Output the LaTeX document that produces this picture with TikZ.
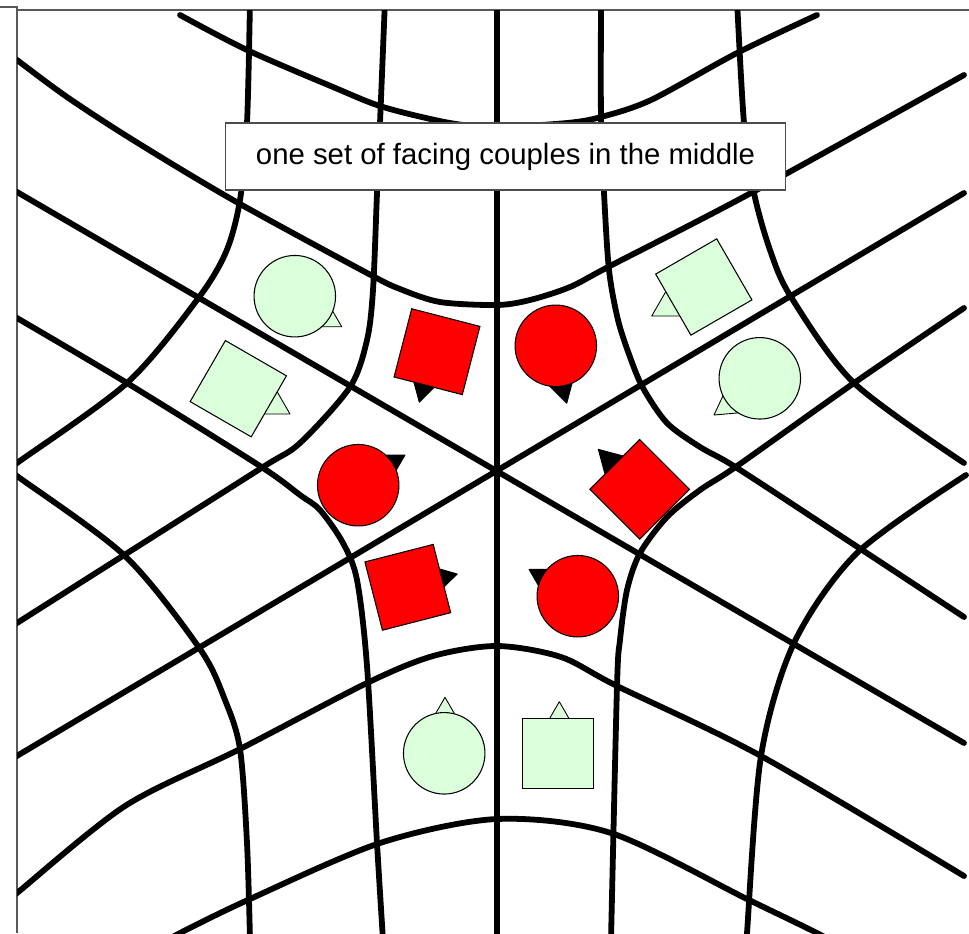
\documentclass[tikz,border=0pt]{standalone}
\usepackage{fontspec}
\setmainfont{Liberation Sans}
\usepackage{xcolor}
\usepackage{tikz}
\definecolor{mint}{RGB}{218,255,218}

\begin{document}
\begin{tikzpicture}[
    x=0.02cm, y=-0.02cm,
    gridline/.style={line width=3.3pt, line cap=round, line join=round},
    frame/.style={draw=black!65, line width=0.6pt},
    nose/.style={draw=black, line width=0.5pt, line join=round},
    outernose/.style={nose, fill=mint},
    innernose/.style={nose, fill=black},
    dancer/.style={draw, line width=0.6pt, inner sep=0pt, outer sep=0pt},
    outerdancer/.style={dancer, fill=mint},
    innerdancer/.style={dancer, fill=red},
    roundbody/.style={circle, minimum size=1.63cm},
    squarebody/.style={rectangle, minimum size=1.41cm},
    caption/.style={draw=black!70, fill=white, line width=0.6pt, minimum width=11.22cm, minimum height=1.34cm, font=\fontsize{16.7}{20}\selectfont}
]
\useasboundingbox (0,0) rectangle (969,933);

\draw[frame] (0,7) -- (17,7) -- (17,933);
\draw[frame] (17,10) -- (969,10);

\begin{scope}
\clip (17,10) rectangle (969,933);
\draw[gridline] (497,0) -- (497,940);
\draw[gridline] (5,185) -- (964,743);
\draw[gridline] (5,763) -- (964,193);

\draw[gridline] plot[smooth] coordinates {(180,15) (247,50) (333,87) (383,107) (450,123) (497,127) (567,123) (601,117) (651,100) (737,53) (817,15)};
\draw[gridline] plot[smooth] coordinates {(5,51) (17,60) (67,97) (133,140) (233,200) (367,273) (400,289) (440,302) (497,305) (530,300) (570,287) (610,266) (751,193) (964,75)};

\draw[gridline] plot[smooth] coordinates {(385,0) (380,123) (377,193) (373,290) (367,340) (350,387) (300,443) (263,467) (140,545) (17,623) (5,631)};
\draw[gridline] plot[smooth] coordinates {(250,0) (247,123) (240,200) (226,252) (197,300) (127,383) (17,463) (5,472)};

\draw[gridline] plot[smooth] coordinates {(5,311) (17,318) (127,383) (260,466) (300,495) (320,510) (343,543) (357,580) (367,666) (377,843) (383,940)};
\draw[gridline] plot[smooth] coordinates {(5,467) (17,476) (125,556) (200,649) (225,700) (240,749) (247,843) (250,940)};

\draw[gridline] plot[smooth] coordinates {(5,903) (17,893) (125,806) (240,749) (367,683) (433,656) (497,646) (561,657) (617,686) (761,756) (964,876)};
\draw[gridline] plot[smooth] coordinates {(160,945) (180,933) (250,899) (380,843) (497,819) (611,833) (747,899) (817,933) (837,945)};

\draw[gridline] plot[smooth] coordinates {(601,0) (601,120) (604,193) (609,270) (618,320) (630,357) (643,388) (667,423) (700,447) (737,468) (850,542) (964,617)};
\draw[gridline] plot[smooth] coordinates {(737,0) (744,123) (754,193) (770,250) (791,297) (854,383) (964,463)};

\draw[gridline] plot[smooth] coordinates {(964,308) (854,383) (737,466) (700,490) (667,517) (640,553) (627,590) (620,640) (617,686) (611,940)};
\draw[gridline] plot[smooth] coordinates {(966,475) (857,553) (794,643) (761,756) (747,933) (747,940)};
\end{scope}

\draw[outernose] (341.7,326.7) -- ++(180:30) -- ++(300:30) -- cycle;
\node[outerdancer, roundbody] (g1) at (294.8,296.2) {};
\draw[outernose] (290,414) -- ++(180:30) -- ++(300:30) -- cycle;
\node[outerdancer, squarebody, rotate=-30] (g2) at (238.3,388.7) {};
\draw[outernose] (651.7,316) -- ++(300:30) -- ++(60:30) -- cycle;
\node[outerdancer, squarebody, rotate=30] (g3) at (703.8,287) {};
\draw[outernose] (714,415) -- ++(295:30) -- ++(55:30) -- cycle;
\node[outerdancer, roundbody] (g4) at (759.8,378.3) {};
\draw[outernose] (445,697.3) -- ++(60:30) -- ++(180:30) -- cycle;
\node[outerdancer, roundbody] (g5) at (444.2,753.3) {};
\draw[outernose] (559.3,701.7) -- ++(60:30) -- ++(180:30) -- cycle;
\node[outerdancer, squarebody] (g6) at (558,753.7) {};

\draw[innernose] (419.3,402.3) -- ++(255:30) -- ++(15:30) -- cycle;
\node[innerdancer, squarebody, rotate=-14.5] (r1) at (437,351.7) {};
\draw[innernose] (566.7,403.3) -- ++(225:30) -- ++(345:30) -- cycle;
\node[innerdancer, roundbody] (r2) at (555.8,345.8) {};
\draw[innernose] (405,455) -- ++(120:30) -- ++(240:30) -- cycle;
\node[innerdancer, roundbody] (r3) at (358.2,485.2) {};
\draw[innernose] (598.3,449.3) -- ++(15:30) -- ++(135:30) -- cycle;
\node[innerdancer, squarebody, rotate=45] (r4) at (639.7,489.3) {};
\draw[innernose] (457.3,574) -- ++(136:30) -- ++(256:30) -- cycle;
\node[innerdancer, squarebody, rotate=14.4] (r5) at (407.8,587.3) {};
\draw[innernose] (529,569.3) -- ++(0:30) -- ++(120:30) -- cycle;
\node[innerdancer, roundbody] (r6) at (577.8,596.2) {};

\node[caption] (title) at (505.5,156.5) {one set of facing couples in the middle};
\end{tikzpicture}
\end{document}
